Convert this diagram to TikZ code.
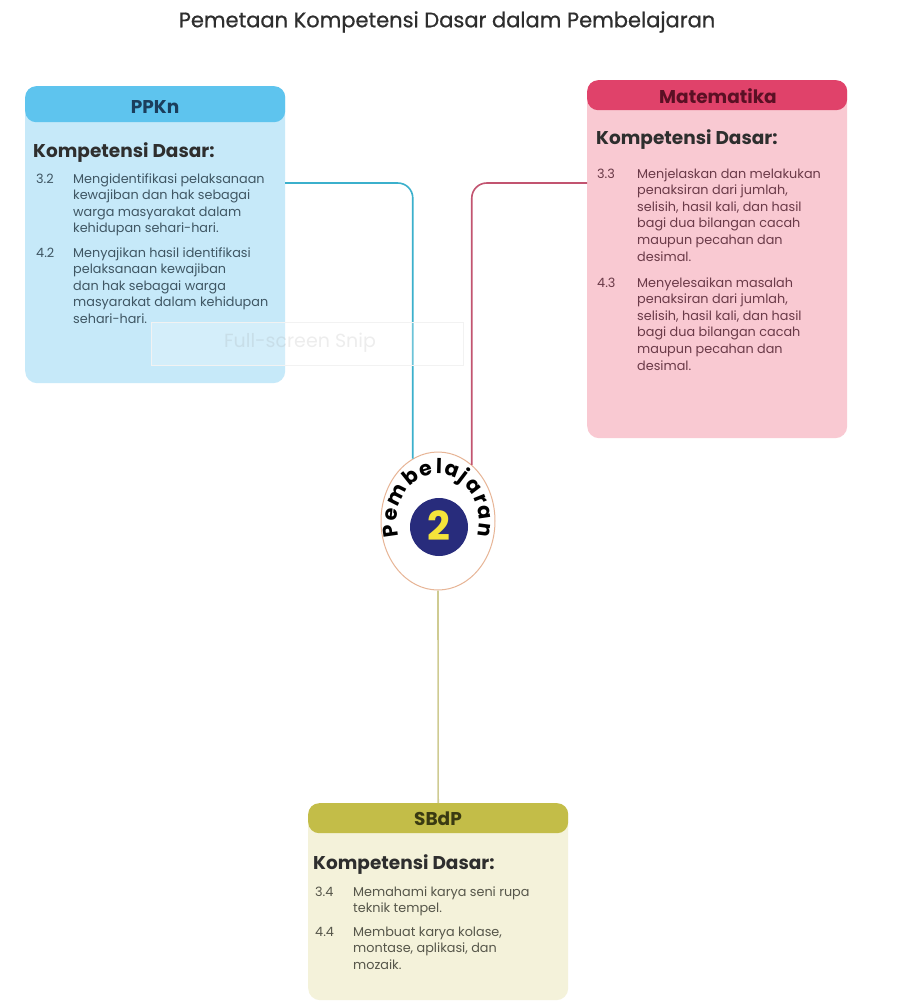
\documentclass[tikz,border=0pt]{standalone}
\usepackage{fontspec}
\setmainfont{Poppins}
\newfontfamily\titlefont[FakeBold=0.7]{Poppins}
\usetikzlibrary{decorations.text,shapes.geometric}

\definecolor{ppknHead}{HTML}{5EC4EE}
\definecolor{ppknBody}{HTML}{C6E9F9}
\definecolor{ppknText}{HTML}{3F5663}
\definecolor{ppknTitle}{HTML}{1B3E5C}
\definecolor{ppknLine}{HTML}{3BB0CC}
\definecolor{mtkHead}{HTML}{E0426A}
\definecolor{mtkBody}{HTML}{F9C9D2}
\definecolor{mtkText}{HTML}{6A3A48}
\definecolor{mtkTitle}{HTML}{5A1024}
\definecolor{mtkLine}{HTML}{C25470}
\definecolor{sbdpHead}{HTML}{C3BD48}
\definecolor{sbdpBody}{HTML}{F4F2DA}
\definecolor{sbdpText}{HTML}{56564A}
\definecolor{sbdpTitle}{HTML}{3A3A12}
\definecolor{sbdpLine}{HTML}{CFCB92}
\definecolor{hubRim}{HTML}{E7B596}
\definecolor{hubNavy}{HTML}{282C7C}
\definecolor{hubYellow}{HTML}{F4E43A}
\definecolor{kdText}{HTML}{2E2E2E}

\tikzset{
  panel/.style={rounded corners=12pt, inner sep=0pt, anchor=north west},
  headband/.style={rounded corners=11pt, inner sep=0pt, anchor=north west},
  headtext/.style={font=\fontsize{18.5}{20}\selectfont\bfseries},
  kdhead/.style={anchor=base west, inner sep=0pt, text=kdText,
    font=\fontsize{18.5}{20}\selectfont\bfseries},
  itemnum/.style={anchor=base west, inner sep=0pt,
    font=\fontsize{12.8}{16.6}\selectfont},
  % multi-line nodes: the base anchor sits on the last line
  itemtext/.style={anchor=base west, inner sep=0pt, align=left,
    font=\fontsize{12.8}{16.6}\selectfont},
  link/.style={line width=1.6pt, rounded corners=15pt},
}

\begin{document}
\begin{tikzpicture}[x=1pt,y=1pt]
\useasboundingbox (0,0) rectangle (922,-1005);
\fill[white] (0,0) rectangle (922,-1005);

% title
\node[font=\titlefont\fontsize{21}{24}\selectfont, text=kdText] (title) at (447,-22)
  {Pemetaan Kompetensi Dasar dalam Pembelajaran};

% central hub
\node[ellipse, draw=hubRim, line width=1pt, fill=white, minimum width=114pt,
  minimum height=138pt, inner sep=0pt] (hub) at (438,-521) {};
\node[circle, fill=hubNavy, minimum size=58pt, inner sep=0pt] (hubcore) at (439,-527) {};
\node[text=hubYellow, font=\fontsize{40}{40}\selectfont\bfseries] (hubnum) at (439,-526) {2};
\path[decorate, decoration={text along path, text align=fit to path,
  text={|\fontsize{20.5}{20}\selectfont\bfseries\color{black}|Pembelajaran}}]
  (438,-522) ++(197:41 and 48) arc[start angle=197, end angle=-17, x radius=41, y radius=48];

% PPKn panel
\node[panel, fill=ppknBody, minimum width=260pt, minimum height=297pt] (ppkn) at (25,-86) {};
\node[headband, fill=ppknHead, minimum width=260pt, minimum height=36pt] (ppknhead) at (25,-86) {};
\node[headtext, text=ppknTitle] (ppknname) at (155,-107) {PPKn};
\node[kdhead] (ppknkd) at (33,-157) {Kompetensi Dasar:};
\node[itemnum, text=ppknText] (ppknn1) at (36,-183) {3.2};
\node[itemtext, text=ppknText] (ppknt1) at (73,-232.8)
  {Mengidentifikasi pelaksanaan\\kewajiban dan hak sebagai\\warga masyarakat dalam\\kehidupan sehari-hari.};
\node[itemnum, text=ppknText] (ppknn2) at (36,-257) {4.2};
\node[itemtext, text=ppknText] (ppknt2) at (73,-323.4)
  {Menyajikan hasil identifikasi\\pelaksanaan kewajiban\\dan hak sebagai warga\\masyarakat dalam kehidupan\\sehari-hari.};

% Matematika panel
\node[panel, fill=mtkBody, minimum width=260pt, minimum height=358pt] (mtk) at (587,-80) {};
\node[headband, fill=mtkHead, minimum width=260pt, minimum height=30pt] (mtkhead) at (587,-80) {};
\node[headtext, text=mtkTitle] (mtkname) at (718,-96) {Matematika};
\node[kdhead] (mtkkd) at (596,-144) {Kompetensi Dasar:};
\node[itemnum, text=mtkText] (mtkn1) at (597,-178) {3.3};
\node[itemtext, text=mtkText] (mtkt1) at (637,-261)
  {Menjelaskan dan melakukan\\penaksiran dari jumlah,\\selisih, hasil kali, dan hasil\\bagi dua bilangan cacah\\maupun pecahan dan\\desimal.};
\node[itemnum, text=mtkText] (mtkn2) at (597,-287) {4.3};
\node[itemtext, text=mtkText] (mtkt2) at (637,-370)
  {Menyelesaikan masalah\\penaksiran dari jumlah,\\selisih, hasil kali, dan hasil\\bagi dua bilangan cacah\\maupun pecahan dan\\desimal.};

% SBdP panel
\node[panel, fill=sbdpBody, minimum width=260pt, minimum height=197pt] (sbdp) at (308,-803) {};
\node[headband, fill=sbdpHead, minimum width=260pt, minimum height=30pt] (sbdphead) at (308,-803) {};
\node[headtext, text=sbdpTitle] (sbdpname) at (438,-819) {SBdP};
\node[kdhead] (sbdpkd) at (313,-869) {Kompetensi Dasar:};
\node[itemnum, text=sbdpText] (sbdpn1) at (315,-896) {3.4};
\node[itemtext, text=sbdpText] (sbdpt1) at (353,-912.6)
  {Memahami karya seni rupa\\teknik tempel.};
\node[itemnum, text=sbdpText] (sbdpn2) at (315,-936) {4.4};
\node[itemtext, text=sbdpText] (sbdpt2) at (353,-969.2)
  {Membuat karya kolase,\\montase, aplikasi, dan\\mozaik.};

% connectors
\coordinate (ppknout) at (285,-183);
\coordinate (mtkout) at (587,-183);
\draw[link, draw=ppknLine] (ppknout) -| (hub.112);
\draw[link, draw=mtkLine] (mtkout) -| (hub.59.5);
\draw[link, draw=sbdpLine] (hub.south) -- (sbdphead.north);

% screen-snip overlay, faint and on top
\node[draw=gray!10, fill=white, fill opacity=0.25, minimum width=312pt, minimum height=43pt,
  inner sep=0pt, anchor=north west] (snip) at (151,-322) {};
\node[text=gray, text opacity=0.14, font=\fontsize{19}{20}\selectfont] (sniptext) at (300,-343)
  {Full-screen Snip};
\end{tikzpicture}
\end{document}
